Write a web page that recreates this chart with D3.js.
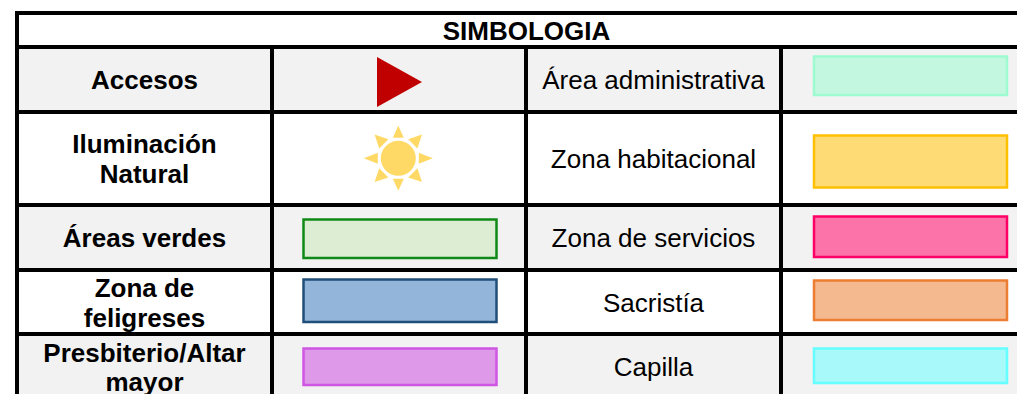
<!DOCTYPE html>
<html>
<head>
<meta charset="utf-8">
<script src="https://cdn.jsdelivr.net/npm/d3@7"></script>
<style>
html, body { margin: 0; padding: 0; background: #fff; overflow: hidden; }
text { font-family: "Liberation Sans", Arial, sans-serif; fill: #000; text-anchor: middle; }
</style>
</head>
<body>
<svg id="chart" width="1017" height="394"></svg>
<script>
var TITLE = "SIMBOLOGIA";
var rowIds = ["r1", "r2", "r3", "r4", "r5"];
var leftLabels = [["Accesos"], ["Iluminación", "Natural"], ["Áreas verdes"], ["Zona de", "feligreses"], ["Presbiterio/Altar", "mayor"]];
var rightLabels = ["Área administrativa", "Zona habitacional", "Zona de servicios", "Sacristía", "Capilla"];
var leftSwatches = [null, null, { fill: "#dcedd3", stroke: "#0f8a16" }, { fill: "#92b5d9", stroke: "#1f4e79" }, { fill: "#de9ae9", stroke: "#cf55e3" }];
var rightSwatches = [
    { fill: "#c3f7e0", stroke: "#9dfccf" },
    { fill: "#ffdb75", stroke: "#ffc000" },
    { fill: "#fb73a8", stroke: "#ff0066" },
    { fill: "#f4b98f", stroke: "#ed7d31" },
    { fill: "#a8f9f9", stroke: "#66ffff" }
];

// layout
var WIDTH = 1017, HEIGHT = 394;
var LINE = 4;
var X_LINES = [17, 272, 526, 781];
var Y_LINES = [13, 47, 112, 205, 270, 334];
var ROW_BOTTOM = 394;
var LEFT_BOX = { x: 303.5, width: 193 };
var RIGHT_BOX = { x: 814, width: 193 };
var LEFT_BOX_Y = [null, null, [219.5, 258], [279.5, 322], [348.5, 385]];
var RIGHT_BOX_Y = [[56.5, 95], [135.5, 187.5], [216.5, 257], [280.5, 320], [348.5, 383]];
var ROW_SHADE = ["#f2f2f2", "#ffffff", "#f2f2f2", "#ffffff", "#f2f2f2"];
var LEFT_BASELINES = [[89], [153, 183], [247], [297, 327], [362, 391]];
var RIGHT_BASELINES = [89, 168, 247, 312, 376];
var SUN_RAYS = [[0, 32.5, 5.5], [45, 33.5, 6.5], [90, 34.5, 5.5], [135, 33.5, 6.5], [180, 32.5, 5.5], [225, 33.5, 6.5], [270, 34.5, 5.5], [315, 33.5, 6.5]];

var FONT_SIZE = 26;

var svg = d3.select("#chart");

var rowTop = d3.scaleOrdinal().domain(rowIds).range(Y_LINES.slice(1));
var rowBottom = d3.scaleOrdinal().domain(rowIds).range(Y_LINES.slice(2).concat([ROW_BOTTOM]));
var colCentre = d3.scaleOrdinal().domain(["left", "icon", "right"])
    .range([(X_LINES[0] + X_LINES[1]) / 2, (X_LINES[1] + X_LINES[2]) / 2, (X_LINES[2] + X_LINES[3]) / 2]);

// row shading goes first so the grid lines sit on top
svg.selectAll(".shade")
    .data(rowIds)
    .enter().append("rect")
    .attr("class", "shade")
    .attr("x", X_LINES[0])
    .attr("width", WIDTH - X_LINES[0])
    .attr("y", function(d) { return rowTop(d); })
    .attr("height", function(d) { return rowBottom(d) - rowTop(d); })
    .attr("fill", function(d, i) { return ROW_SHADE[i]; });

function drawSwatches(list, box, ys, cls) {
    svg.selectAll("." + cls)
        .data(list)
        .enter()
        .filter(function(d) { return d !== null; })
        .append("rect")
        .attr("class", cls)
        .attr("x", box.x)
        .attr("width", box.width)
        .attr("y", function(d) { return ys[list.indexOf(d)][0]; })
        .attr("height", function(d) { var y = ys[list.indexOf(d)]; return y[1] - y[0]; })
        .attr("fill", function(d) { return d.fill; })
        .attr("stroke", function(d) { return d.stroke; })
        .attr("stroke-width", 2.5);
}
drawSwatches(leftSwatches, LEFT_BOX, LEFT_BOX_Y, "left-box");
drawSwatches(rightSwatches, RIGHT_BOX, RIGHT_BOX_Y, "right-box");

// access arrow
svg.append("path")
    .attr("d", d3.line()([[377, 57], [422, 82], [377, 107]]) + "Z")
    .attr("fill", "#c00000");

// sun
var sun = svg.append("g").attr("transform", "translate(398.3,158.3)");
sun.append("circle").attr("r", 17.5).attr("fill", "#ffd966");
sun.selectAll(".ray")
    .data(SUN_RAYS)
    .enter().append("path")
    .attr("class", "ray")
    .attr("d", function(d) { return d3.line()([[-d[2], -20.5], [0, -d[1]], [d[2], -20.5]]) + "Z"; })
    .attr("fill", "#ffd966")
    .attr("transform", function(d) { return "rotate(" + d[0] + ")"; });

// grid
var grid = svg.append("g").attr("stroke", "#000").attr("stroke-width", LINE);
grid.selectAll(".h")
    .data(Y_LINES)
    .enter().append("line")
    .attr("class", "h")
    .attr("x1", X_LINES[0] - LINE / 2).attr("x2", WIDTH)
    .attr("y1", function(d) { return d; }).attr("y2", function(d) { return d; });
grid.selectAll(".v")
    .data(X_LINES)
    .enter().append("line")
    .attr("class", "v")
    .attr("x1", function(d) { return d; }).attr("x2", function(d) { return d; })
    .attr("y1", function(d, i) { return i === 0 ? Y_LINES[0] : Y_LINES[1]; })
    .attr("y2", HEIGHT);

// text
svg.append("text")
    .attr("x", 526.5)
    .attr("y", 40)
    .attr("font-size", FONT_SIZE)
    .attr("font-weight", "bold")
    .text(TITLE);

svg.selectAll(".left-label")
    .data(leftLabels)
    .enter().append("text")
    .attr("class", "left-label")
    .attr("font-size", FONT_SIZE)
    .attr("font-weight", "bold")
    .each(function(lines, i) {
        d3.select(this).selectAll("tspan")
            .data(lines)
            .enter().append("tspan")
            .attr("x", colCentre("left"))
            .attr("y", function(d, j) { return LEFT_BASELINES[i][j]; })
            .text(function(d) { return d; });
    });

svg.selectAll(".right-label")
    .data(rightLabels)
    .enter().append("text")
    .attr("class", "right-label")
    .attr("font-size", FONT_SIZE)
    .attr("x", 653.5)
    .attr("y", function(d, i) { return RIGHT_BASELINES[i]; })
    .text(function(d) { return d; });
</script>
</body>
</html>
